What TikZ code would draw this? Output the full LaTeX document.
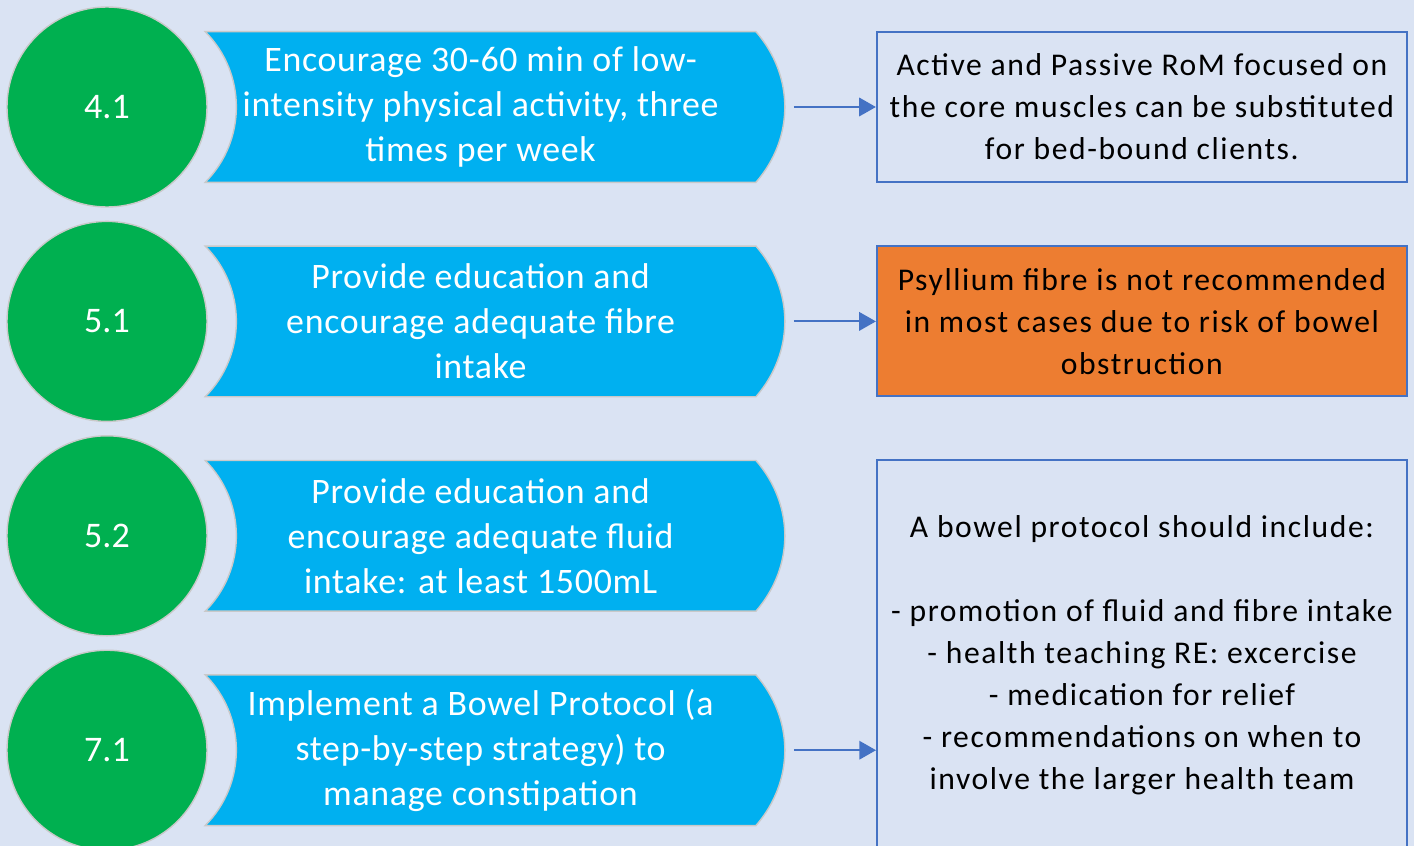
\documentclass[tikz,border=0pt]{standalone}
\usepackage{fontspec}
\setmainfont{Carlito}
\newfontfamily\actfont[LetterSpace=2]{Carlito}
\newfontfamily\notefont[LetterSpace=5]{Carlito}
\usetikzlibrary{arrows.meta, positioning, backgrounds}

\definecolor{pagebg}{HTML}{DAE3F3}
\definecolor{stepgreen}{HTML}{00B050}
\definecolor{actblue}{HTML}{00B0F0}
\definecolor{noteblue}{HTML}{4472C4}
\definecolor{warnorange}{HTML}{ED7D31}
\definecolor{rimgray}{HTML}{C9C9C9}

\begin{document}
\begin{tikzpicture}[
  node distance=0.26cm and 2.40cm,
  num/.style={
    circle,
    fill=stepgreen,
    draw=rimgray,
    line width=0.8pt,
    minimum size=4cm,
    text=white,
    font=\fontsize{20.5}{24}\selectfont
  },
  act/.style={
    rectangle,
    minimum width=11cm,
    minimum height=3cm,
    align=center,
    text=white,
    font=\actfont\fontsize{20.4}{25.6}\selectfont
  },
  note/.style={
    draw=noteblue,
    rectangle,
    line width=1.1pt,
    minimum width=10.6cm,
    minimum height=3cm,
    align=center,
    font=\notefont\fontsize{18}{23.9}\selectfont
  },
  arrow/.style={-{Triangle[length=9.5pt,width=10.5pt]}, noteblue, line width=1.1pt}
]

\useasboundingbox (0,0) rectangle (28.28,-16.92);

% numbered steps
\node[num] (n41) at (2.14,-2.14) {4.1};
\node[num, below=of n41] (n51) {5.1};
\node[num, below=of n51] (n52) {5.2};
\node[num, below=of n52] (n71) {7.1};

% actions
\node[act, right=-0.05cm of n41] (a41) {Encourage 30-60 min of low-\\intensity physical activity, three\\times per week};
\node[act, right=-0.05cm of n51] (a51) {Provide education and\\encourage adequate fibre\\intake};
\node[act, right=-0.05cm of n52] (a52) {Provide education and\\encourage adequate fluid\\intake: at least 1500mL};
\node[act, right=-0.05cm of n71] (a71) {Implement a Bowel Protocol (a\\step-by-step strategy) to\\manage constipation};

% side notes
\node[note, right=of a41] (r41) {Active and Passive RoM focused on\\the core muscles can be substituted\\for bed-bound clients.};
\node[note, right=of a51, fill=warnorange] (r51) {Psyllium fibre is not recommended\\in most cases due to risk of bowel\\obstruction};
\node[note, minimum height=7.8cm] (r71) at (22.84,-13.1) {A bowel protocol should include:\\[0.84cm]
  - promotion of fluid and fibre intake\\
  - health teaching RE: excercise\\
  - medication for relief\\
  - recommendations on when to\\
  involve the larger health team};

\draw[arrow, shorten <=0.76cm] (a41) -- (r41);
\draw[arrow, shorten <=0.76cm] (a51) -- (r51);
\draw[arrow, shorten <=0.76cm] (a71) -- (r71.west |- a71);

% banner outlines behind the action text
\begin{scope}[on background layer]
  \fill[pagebg] (0,0) rectangle (28.28,-16.92);
  \foreach \n in {a41,a51,a52,a71}
    \draw[fill=actblue, draw=rimgray, line width=0.8pt]
      (\n.north west) to[bend left=45] (\n.south west)
      -- (\n.south east) to[bend right=41] (\n.north east) -- cycle;
\end{scope}

\end{tikzpicture}
\end{document}
